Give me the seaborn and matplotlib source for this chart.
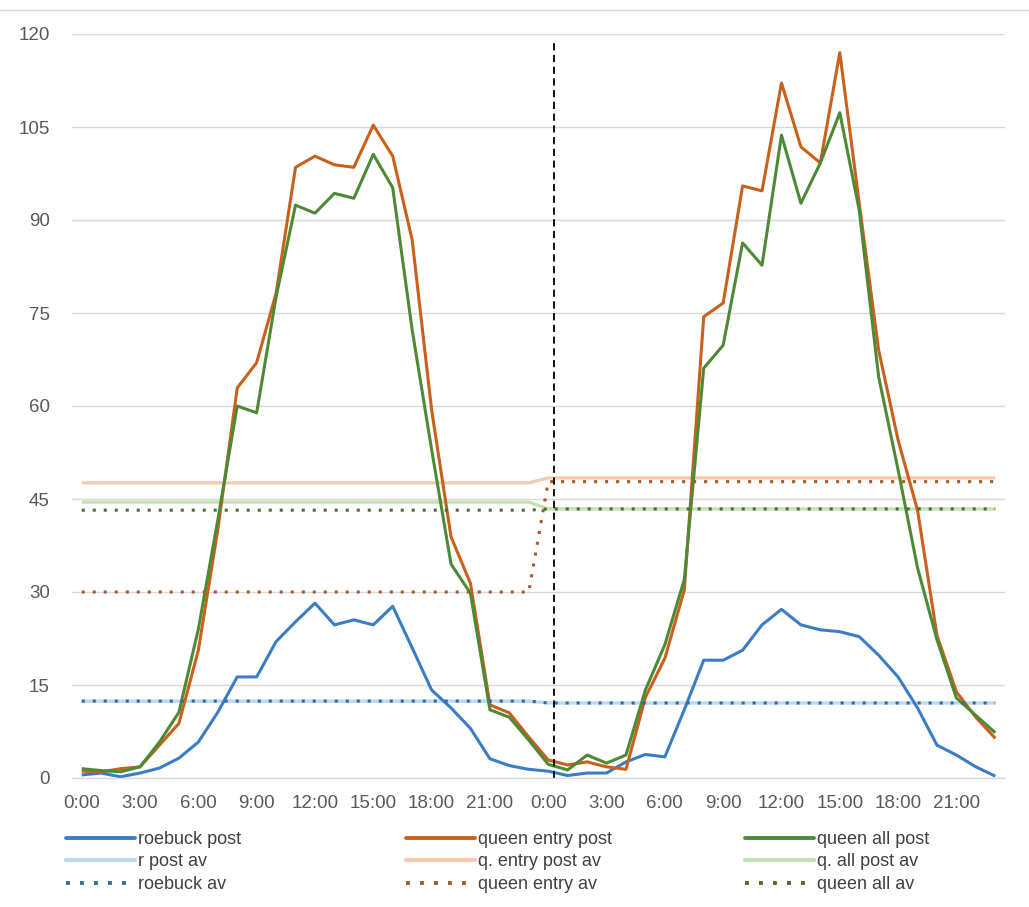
import numpy as np
import pandas as pd
import matplotlib
matplotlib.use("Agg")
import matplotlib.pyplot as plt
from matplotlib.lines import Line2D
import seaborn as sns

sns.set_theme(style="white")
plt.rcParams['font.family'] = ['Liberation Sans', 'DejaVu Sans']

# ---- data ----
hours = list(range(48))
tick_labels = ["0:00", "3:00", "6:00", "9:00", "12:00", "15:00", "18:00", "21:00"] * 2

roebuck_post = [0.5, 0.8, 0.2, 0.8, 1.6, 3.2, 5.8, 10.6, 16.3, 16.3, 22.0, 25.2,
                28.2, 24.7, 25.5, 24.7, 27.7, 21.0, 14.2, 11.3, 8.0, 3.1, 2.0, 1.4,
                1.1, 0.4, 0.8, 0.8, 2.6, 3.8, 3.4, 11.0, 19.0, 19.0, 20.6, 24.7,
                27.2, 24.7, 23.9, 23.6, 22.8, 19.8, 16.3, 11.3, 5.3, 3.7, 1.8, 0.3]
queen_entry_post = [1.1, 1.0, 1.5, 1.8, 5.3, 8.8, 20.6, 40.0, 62.9, 67.0, 78.2, 98.5,
                    100.3, 98.9, 98.5, 105.3, 100.3, 86.8, 59.4, 38.9, 31.4, 11.8, 10.5, 6.6,
                    2.9, 2.1, 2.6, 1.8, 1.4, 13.0, 19.3, 30.3, 74.4, 76.6, 95.5, 94.7,
                    112.1, 101.8, 99.2, 117.0, 92.7, 69.0, 54.5, 43.2, 23.0, 13.9, 9.8, 6.4]
queen_all_post = [1.5, 1.2, 1.0, 1.8, 5.8, 10.6, 24.0, 41.6, 60.0, 58.9, 77.6, 92.4,
                  91.1, 94.3, 93.5, 100.6, 95.2, 72.3, 53.0, 34.5, 29.8, 11.0, 9.8, 6.1,
                  2.2, 1.3, 3.7, 2.4, 3.7, 14.2, 21.5, 32.0, 66.1, 69.8, 86.3, 82.7,
                  103.7, 92.7, 99.2, 107.3, 91.6, 64.7, 49.7, 33.9, 22.3, 12.9, 10.1, 7.3]

# daily averages (day 1, day 2)
r_post_av_days = [12.4, 12.1]
q_entry_post_av_days = [47.6, 48.4]
q_all_post_av_days = [44.5, 43.4]
roebuck_av_days = [12.4, 12.1]
queen_entry_av_days = [30.0, 47.8]
queen_all_av_days = [43.2, 43.4]

day_boundary = 24.3

def per_hour(days):
    return list(np.repeat(days, 24))

# ---- figure ----
fig = plt.figure(figsize=(10.29, 9.07), dpi=100)
ax = fig.add_axes([72/1029, 1-778/907, (1005-72)/1029, (778-34)/907])

c_blue, c_orange, c_green = "#3B7DC4", "#C9601C", "#4E8A35"
lc_blue, lc_orange, lc_green = "#BDD7EE", "#F8CBAD", "#C5E0B4"
d_blue, d_orange, d_green = "#2F6BA8", "#A9572B", "#466F32"

dot = (0, (1.0, 2.6))
series = [
    ("r post av", per_hour(r_post_av_days), lc_blue, "-", 2.4),
    ("q. entry post av", per_hour(q_entry_post_av_days), lc_orange, "-", 2.4),
    ("q. all post av", per_hour(q_all_post_av_days), lc_green, "-", 2.4),
    ("roebuck post", roebuck_post, c_blue, "-", 2.2),
    ("queen entry post", queen_entry_post, c_orange, "-", 2.2),
    ("queen all post", queen_all_post, c_green, "-", 2.2),
    ("roebuck av", per_hour(roebuck_av_days), d_blue, dot, 2.2),
    ("queen entry av", per_hour(queen_entry_av_days), d_orange, dot, 2.2),
    ("queen all av", per_hour(queen_all_av_days), d_green, dot, 2.2),
]
handles = {}
for name, vals, col, ls, lw in series:
    df = pd.DataFrame({"hour": hours, "value": vals})
    sns.lineplot(data=df, x="hour", y="value", ax=ax, color=col, linewidth=lw,
                 linestyle=ls, legend=False, solid_capstyle="butt", dash_capstyle="butt")
    handles[name] = Line2D([], [], color=col, linewidth=lw + 0.6, linestyle=ls,
                           dash_capstyle="butt")

ax.axvline(day_boundary, ymin=0, ymax=118.8/120, color="black", linewidth=1.3,
           linestyle=(0, (4, 2.5)))

ax.set_xlim(-0.5, 47.5)
ax.set_ylim(0, 120)
ax.set_yticks(range(0, 121, 15))
ax.set_xticks(hours[::3])
ax.set_xticklabels(tick_labels)
ax.set_xlabel("")
ax.set_ylabel("")
ax.grid(axis="y", color="#D9D9D9", linewidth=1.0)
ax.grid(axis="x", visible=False)
for s in ["top", "right", "left"]:
    ax.spines[s].set_visible(False)
ax.spines["bottom"].set_color("#D9D9D9")
ax.spines["bottom"].set_linewidth(1.0)
ax.tick_params(axis="y", length=0, pad=16, labelsize=13.5, labelcolor="#595959")
ax.tick_params(axis="x", length=0, pad=12, labelsize=13.5, labelcolor="#595959")

# legend: three columns placed like the original
cols = [["roebuck post", "r post av", "roebuck av"],
        ["queen entry post", "q. entry post av", "queen entry av"],
        ["queen all post", "q. all post av", "queen all av"]]
xs = [66/1029, 406/1029, 745/1029]
for names, x in zip(cols, xs):
    leg = fig.legend([handles[n] for n in names], names, loc="center left",
                     bbox_to_anchor=(x, 1-862/907), frameon=False, fontsize=13,
                     handlelength=3.8, handletextpad=0.2, labelspacing=0.3,
                     borderpad=0, borderaxespad=0)
    for t in leg.get_texts():
        t.set_color("#404040")

fig.add_artist(Line2D([0, 1], [1-10/907, 1-10/907], color="#D9D9D9", linewidth=1.0))

fig.savefig("out.png", dpi=100, facecolor="white")
